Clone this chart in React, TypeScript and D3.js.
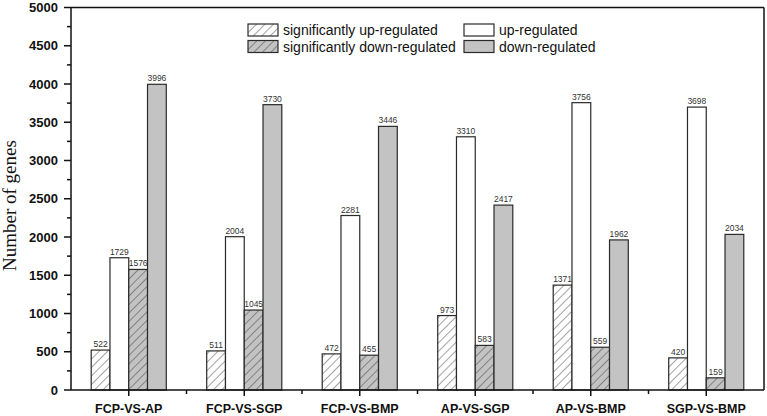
import React from "react";
import * as d3 from "d3";

const categories = ["FCP-VS-AP", "FCP-VS-SGP", "FCP-VS-BMP", "AP-VS-SGP", "AP-VS-BMP", "SGP-VS-BMP"];
const seriesNames = ["significantly up-regulated", "up-regulated", "significantly down-regulated", "down-regulated"];
const sigUp = [522, 511, 472, 973, 1371, 420];
const up = [1729, 2004, 2281, 3310, 3756, 3698];
const sigDown = [1576, 1045, 455, 583, 559, 159];
const down = [3996, 3730, 3446, 2417, 1962, 2034];
const yTicks = [0, 500, 1000, 1500, 2000, 2500, 3000, 3500, 4000, 4500, 5000];

const W = 767, H = 416;
const left = 71, right = 764, top = 7.5, bottom = 390;

const fills = ["url(#hatchWhite)", "#ffffff", "url(#hatchGray)", "#c3c3c3"];
const seriesData = [sigUp, up, sigDown, down];

export default function App() {
  const x = d3.scaleLinear().domain([-0.5, categories.length - 0.5]).range([left, right]);
  const y = d3.scaleLinear().domain([0, 5000]).range([bottom, top]);
  const groupW = x(1) - x(0);
  const barW = (groupW * 0.65) / 4;
  const minorY = d3.range(250, 5000, 500);
  const font = "Arial, 'Liberation Sans', sans-serif";

  const legendRows = [
    { x: 248, y: 24 },
    { x: 464, y: 24 },
    { x: 248, y: 40.5 },
    { x: 464, y: 40.5 },
  ];
  const legendOrder = [0, 1, 2, 3];

  return (
    <svg width={W} height={H} style={{ position: "absolute", left: 0, top: 0, background: "#fff" }}>
      <defs>
        <pattern id="hatchWhite" patternUnits="userSpaceOnUse" width={6} height={6} patternTransform="rotate(45)">
          <rect width={6} height={6} fill="#fff" />
          <line x1={0} y1={0} x2={0} y2={6} stroke="#333" strokeWidth={0.9} />
        </pattern>
        <pattern id="hatchGray" patternUnits="userSpaceOnUse" width={6} height={6} patternTransform="rotate(45)">
          <rect width={6} height={6} fill="#c3c3c3" />
          <line x1={0} y1={0} x2={0} y2={6} stroke="#333" strokeWidth={0.9} />
        </pattern>
      </defs>

      {/* bars */}
      {categories.map((c, i) => {
        const c0 = x(i) - 2 * barW;
        return (
          <g key={c}>
            {seriesData.map((s, k) => {
              const bx = c0 + k * barW;
              const by = y(s[i]);
              return (
                <g key={k}>
                  <rect x={bx} y={by} width={barW} height={bottom - by} fill={fills[k]} stroke="#2a2a2a" strokeWidth={1.2} />
                  <text x={bx + barW / 2} y={by - 3} textAnchor="middle" fontFamily={font} fontSize={8.5} fill="#333">
                    {s[i]}
                  </text>
                </g>
              );
            })}
          </g>
        );
      })}

      {/* frame */}
      <line x1={left} y1={top} x2={right} y2={top} stroke="#111" strokeWidth={1.5} />
      <line x1={right} y1={top} x2={right} y2={bottom} stroke="#111" strokeWidth={1.5} />
      <line x1={left} y1={top} x2={left} y2={bottom} stroke="#111" strokeWidth={1.5} />
      <line x1={left} y1={bottom} x2={right} y2={bottom} stroke="#111" strokeWidth={1.5} />

      {/* y ticks */}
      {yTicks.map((t) => (
        <g key={t}>
          <line x1={left - 7} x2={left} y1={y(t)} y2={y(t)} stroke="#111" strokeWidth={1.5} />
          <text x={58} y={y(t) + 4.5} textAnchor="end" fontFamily={font} fontWeight="bold" fontSize={13} fill="#111">
            {t}
          </text>
        </g>
      ))}
      {minorY.map((t) => (
        <line key={t} x1={left - 4} x2={left} y1={y(t)} y2={y(t)} stroke="#111" strokeWidth={1.5} />
      ))}

      {/* x ticks */}
      {categories.map((c, i) => (
        <g key={c}>
          <line x1={x(i)} x2={x(i)} y1={bottom} y2={bottom + 6} stroke="#111" strokeWidth={1.5} />
          {i < categories.length - 1 && (
            <line x1={x(i + 0.5)} x2={x(i + 0.5)} y1={bottom} y2={bottom + 4} stroke="#111" strokeWidth={1.5} />
          )}
          <text x={x(i)} y={413} textAnchor="middle" fontFamily={font} fontWeight="bold" fontSize={12.5} fill="#111">
            {c}
          </text>
        </g>
      ))}

      {/* y label */}
      <text
        transform={`translate(16,271) rotate(-90)`}
        textAnchor="start"
        fontFamily="'Liberation Serif', 'Times New Roman', serif"
        fontSize={19}
        fill="#111"
      >
        Number of genes
      </text>

      {/* legend */}
      {legendOrder.map((k, idx) => {
        const p = legendRows[idx];
        return (
          <g key={k}>
            <rect x={p.x} y={p.y} width={30} height={12} fill={fills[k]} stroke="#2a2a2a" strokeWidth={1.2} />
            <text x={p.x + 35} y={p.y + 11} fontFamily={font} fontSize={14} fill="#111">
              {seriesNames[k]}
            </text>
          </g>
        );
      })}
    </svg>
  );
}
